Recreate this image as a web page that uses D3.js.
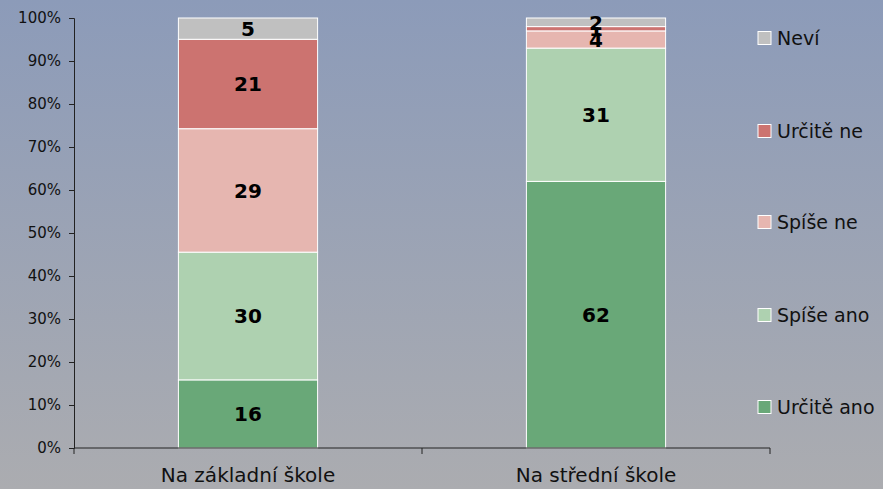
<!DOCTYPE html>
<html>
<head>
<meta charset="utf-8">
<script src="https://cdn.jsdelivr.net/npm/d3@7"></script>
<style>
  body { margin: 0; }
  svg { display: block; font-family: "DejaVu Sans", Verdana, sans-serif; }
</style>
</head>
<body>
<div id="chart"></div>
<script>
// data
let categories = ["Na základní škole", "Na střední škole"];
let seriesNames = ["Určitě ano", "Spíše ano", "Spíše ne", "Určitě ne", "Neví"];
let seriesColors = ["#69a878", "#aed1b0", "#e6b6b0", "#cc7370", "#c0c0c0"];
let urciteAno = [16, 62];
let spiseAno = [30, 31];
let spiseNe = [29, 4];
let urciteNe = [21, 1];
let nevi = [5, 2];
let yTicks = [0, 0.1, 0.2, 0.3, 0.4, 0.5, 0.6, 0.7, 0.8, 0.9, 1];

let values = [urciteAno, spiseAno, spiseNe, urciteNe, nevi];
let rows = categories.map((c, i) => {
    let r = { cat: c };
    seriesNames.forEach((s, j) => r[s] = values[j][i]);
    return r;
});

let svgWidth = 883, svgHeight = 489;
let margin = { top: 18, right: 113, bottom: 41, left: 74 };
let width = 696;
let height = svgHeight - margin.top - margin.bottom;

let svg = d3.select("#chart").append("svg")
    .attr("width", svgWidth)
    .attr("height", svgHeight);

let grad = svg.append("defs").append("linearGradient")
    .attr("id", "bg").attr("x1", 0).attr("y1", 0).attr("x2", 0).attr("y2", 1);
grad.append("stop").attr("offset", "0%").attr("stop-color", "#8c9bb9");
grad.append("stop").attr("offset", "100%").attr("stop-color", "#abacb0");

svg.append("rect").attr("width", svgWidth).attr("height", svgHeight).attr("fill", "url(#bg)");

let chartGroup = svg.append("g")
    .attr("transform", `translate(${margin.left}, ${margin.top})`);

let x = d3.scaleBand().domain(categories).range([0, width]).padding(0);
let y = d3.scaleLinear().domain([0, 1]).range([height, 0]);

let stack = d3.stack().keys(seriesNames).offset(d3.stackOffsetExpand);
let stacked = stack(rows);

let barW = x.bandwidth() * 0.4;

let layers = chartGroup.selectAll("g.layer")
    .data(stacked)
    .enter().append("g")
    .attr("class", "layer")
    .attr("fill", (d, i) => seriesColors[i]);

layers.selectAll("rect")
    .data(d => d)
    .enter().append("rect")
    .attr("x", d => x(d.data.cat) + (x.bandwidth() - barW) / 2)
    .attr("y", d => y(d[1]))
    .attr("width", barW)
    .attr("height", d => y(d[0]) - y(d[1]))
    .attr("stroke", "#ffffff")
    .attr("stroke-width", 1);

layers.each(function(layer) {
    d3.select(this).selectAll("text")
        .data(layer)
        .enter().append("text")
        .attr("x", d => x(d.data.cat) + x.bandwidth() / 2)
        .attr("y", d => (y(d[0]) + y(d[1])) / 2)
        .attr("dy", "0.36em")
        .attr("text-anchor", "middle")
        .attr("font-size", 20)
        .attr("font-weight", "bold")
        .attr("fill", "#000")
        .text(d => d.data[layer.key]);
});

// axes
let leftAxis = d3.axisLeft(y).tickValues(yTicks).tickFormat(d3.format(".0%")).tickSizeOuter(0).tickSize(5).tickPadding(8);
let yAxisG = chartGroup.append("g").call(leftAxis);
yAxisG.selectAll("text").attr("font-size", 15).attr("fill", "#111").attr("font-family", "DejaVu Sans, Verdana, sans-serif");
yAxisG.selectAll("line, path").attr("stroke", "#222");

let bottomAxis = d3.axisBottom(x).tickSize(0).tickPadding(20);
let xAxisG = chartGroup.append("g")
    .attr("transform", `translate(0, ${height})`)
    .call(bottomAxis);
xAxisG.select("path").attr("d", `M0,0H${width}`).attr("stroke", "#222");
xAxisG.selectAll("text").attr("font-size", 20).attr("fill", "#111").attr("font-family", "DejaVu Sans, Verdana, sans-serif");
xAxisG.selectAll(".sep")
    .data([0].concat(categories.map(c => x(c) + x.bandwidth())))
    .enter().append("line")
    .attr("class", "sep")
    .attr("x1", d => d).attr("x2", d => d)
    .attr("y1", 0).attr("y2", 6)
    .attr("stroke", "#222");

// legend, top to bottom in reverse series order
let legendY = [38, 131, 222, 315, 407];
let legend = svg.append("g");
let items = seriesNames.slice().reverse();
let itemColors = seriesColors.slice().reverse();
items.forEach((name, i) => {
    let g = legend.append("g").attr("transform", `translate(758, ${legendY[i]})`);
    g.append("rect").attr("x", 0).attr("y", -6.5).attr("width", 13).attr("height", 13)
        .attr("fill", itemColors[i]).attr("stroke", "#fff").attr("stroke-width", 1);
    g.append("text").attr("x", 19).attr("y", 0).attr("dy", "0.36em")
        .attr("font-size", 19).attr("fill", "#111").text(name);
});
</script>
</body>
</html>
